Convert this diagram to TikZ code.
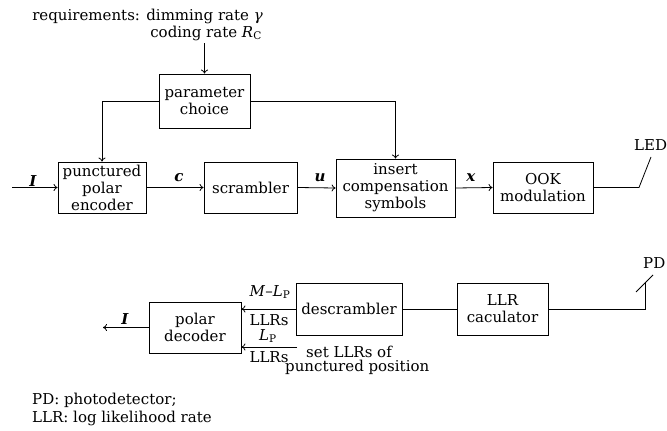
\documentclass[tikz,border=0pt]{standalone}
\usepackage{fontspec}
\setmainfont{DejaVu Serif}
\usetikzlibrary{arrows.meta}
\begin{document}
\begin{tikzpicture}[x=1pt,y=-1pt,
  font=\fontsize{15}{17}\selectfont,
  blk/.style={draw,line width=0.8pt,align=center,inner sep=1pt},
  conn/.style={line width=0.8pt},
  arr/.style={line width=0.8pt,-{To[length=4pt,width=7pt]}},
  lbl/.style={inner sep=0pt}]
\useasboundingbox (0,0) rectangle (667,431);
% top row
\node[blk,minimum width=91pt,minimum height=54pt] (param) at (204.5,101) {parameter\\choice};
\node[blk,minimum width=88pt,minimum height=51pt] (enc) at (102,187.5) {punctured\\polar\\encoder};
\node[blk,minimum width=93pt,minimum height=51pt] (scr) at (250.5,187.5) {scrambler};
\node[blk,minimum width=119pt,minimum height=58pt] (ins) at (395.5,188) {insert\\compensation\\symbols};
\node[blk,minimum width=100pt,minimum height=51pt] (ook) at (543,187.5) {OOK\\modulation};
\node[lbl,anchor=base east] (req1) at (263,20) {requirements: dimming rate \textit{γ}};
\node[lbl,anchor=base east] (req2) at (262,37) {coding rate \textit{R}\textsubscript{C}};
\coordinate (reqend) at (204.5,43);
\coordinate (inp) at (12,187.5);
\coordinate (ledA) at (639,187.5);
\coordinate (ledB) at (651,157);
\node[lbl,anchor=base west] (led) at (634,150) {LED};
\node[lbl] (lI) at (33,181) {\textbf{\textit{I}}};
\node[lbl] (lc) at (179,178) {\textbf{\textit{c}}};
\node[lbl] (lu) at (320,178) {\textbf{\textit{u}}};
\node[lbl] (lx) at (471,178) {\textbf{\textit{x}}};
\draw[arr] (reqend) -- (param.north);
\draw[arr] (param.west) -| (enc.north);
\draw[arr] (param.east) -| (ins.north);
\draw[arr] (inp) -- (enc.west);
\draw[arr] (enc.east) -- (scr.west);
\draw[arr] (scr.east) -- (ins.west);
\draw[arr] (ins.east) -- (ook.west);
\draw[conn] (ook.east) -- (ledA) -- (ledB);
% bottom row
\node[blk,minimum width=92pt,minimum height=51pt] (dec) at (195,327.5) {polar\\decoder};
\node[blk,minimum width=106pt,minimum height=52pt] (desc) at (349,309) {descrambler};
\node[blk,minimum width=91pt,minimum height=52pt] (llr) at (502.5,309) {LLR\\caculator};
\coordinate (out) at (103,327.5);
\coordinate (lp) at (297,347);
\coordinate (pdA) at (645,309);
\coordinate (pdB) at (645,283);
\coordinate (pdC) at (636,292);
\coordinate (pdD) at (653,275);
\node[lbl] (lI2) at (125,319) {\textbf{\textit{I}}};
\node[lbl] (lml) at (270,292) {\textit{M}–\textit{L}\textsubscript{P}};
\node[lbl] (lr1) at (269,320) {LLRs};
\node[lbl] (ll) at (268,336) {\textit{L}\textsubscript{P}};
\node[lbl] (lr2) at (269,357) {LLRs};
\node[lbl,anchor=base west] (set1) at (306,357) {set LLRs of};
\node[lbl,anchor=base west] (set2) at (285,371) {punctured position};
\node[lbl,anchor=base west] (pd) at (643,268) {PD};
\draw[arr] (dec.west) -- (out);
\draw[arr] (desc.west) -- (dec.east |- desc.west);
\draw[arr] (lp) -- (dec.east |- lp);
\draw[conn] (desc.east) -- (llr.west);
\draw[conn] (llr.east) -- (pdA) -- (pdB);
\draw[conn] (pdC) -- (pdD);
% legend
\node[lbl,anchor=base west] (leg1) at (32,404) {PD: photodetector;};
\node[lbl,anchor=base west] (leg2) at (32,422) {LLR: log likelihood rate};
\end{tikzpicture}
\end{document}
